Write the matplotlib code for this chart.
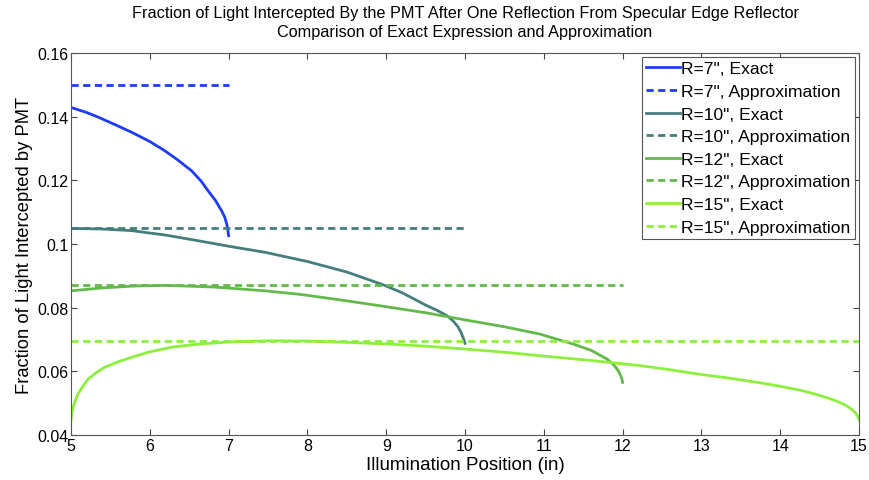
import matplotlib
matplotlib.use('Agg')
import matplotlib.pyplot as plt

plt.rcParams['font.family'] = ['Liberation Sans', 'DejaVu Sans']

# values
x_r7 = [5.0, 5.2, 5.35, 5.55, 5.77, 6.0, 6.19, 6.35, 6.53, 6.65, 6.74, 6.83, 6.91, 6.95,
        6.976, 6.99, 7.0]
y_r7 = [0.1429, 0.1413, 0.1398, 0.1376, 0.1351, 0.1322, 0.1293, 0.1265, 0.1230, 0.1198,
        0.1167, 0.1138, 0.1105, 0.1085, 0.1063, 0.1045, 0.1026]

x_r10 = [5.0, 5.4, 5.77, 6.2, 6.62, 7.0, 7.46, 8.0, 8.5, 8.96, 9.2, 9.34, 9.5, 9.65, 9.77,
         9.85, 9.91, 9.95, 9.98, 10.0]
y_r10 = [0.1049, 0.1047, 0.1042, 0.1028, 0.1010, 0.0993, 0.0974, 0.0945, 0.0912, 0.0872,
         0.0847, 0.0829, 0.0808, 0.0791, 0.0775, 0.0758, 0.0740, 0.0722, 0.0703, 0.0688]

x_r12 = [5.0, 5.4, 5.8, 6.19, 6.8, 7.46, 7.9, 8.4, 8.92, 9.5, 10.06, 10.5, 10.95, 11.37,
         11.6, 11.8, 11.88, 11.93, 11.97, 11.99, 12.0]
y_r12 = [0.0853, 0.0862, 0.0868, 0.0870, 0.0865, 0.0853, 0.0842, 0.0825, 0.0806, 0.0784,
         0.0759, 0.0740, 0.0717, 0.0686, 0.0666, 0.0639, 0.0622, 0.0607, 0.0590, 0.0577,
         0.0565]

x_r15 = [5.0, 5.01, 5.03, 5.06, 5.09, 5.15, 5.22, 5.32, 5.43, 5.6, 5.77, 5.98, 6.28, 6.6,
         7.0, 7.5, 8.0, 8.5, 9.0, 9.5, 10.0, 10.5, 10.95, 11.6, 12.22, 12.6, 13.0, 13.4,
         13.74, 14.0, 14.25, 14.45, 14.62, 14.75, 14.84, 14.9, 14.95, 14.98, 15.0]
y_r15 = [0.0445, 0.0470, 0.0490, 0.0512, 0.0529, 0.0553, 0.0576, 0.0596, 0.0613, 0.0630,
         0.0644, 0.0660, 0.0676, 0.0685, 0.0692, 0.0696, 0.0695, 0.0691, 0.0686, 0.0679,
         0.0670, 0.0660, 0.0649, 0.0634, 0.0618, 0.0605, 0.0590, 0.0577, 0.0564, 0.0553,
         0.0541, 0.0528, 0.0515, 0.0503, 0.0492, 0.0482, 0.0471, 0.0460, 0.0448]

radii = [7, 10, 12, 15]
approx = [0.1500, 0.1049, 0.0872, 0.0696]
exact_x = [x_r7, x_r10, x_r12, x_r15]
exact_y = [y_r7, y_r10, y_r12, y_r15]
colors = ['#1e3cf5', '#467d7d', '#64b94b', '#8cf03c']

fig = plt.figure(figsize=(8.7, 4.81), dpi=100)
ax = fig.add_axes([0.0816, 0.0936, 0.9058, 0.7941])

for r, a, xs, ys, c in zip(radii, approx, exact_x, exact_y, colors):
    ax.plot(xs, ys, color=c, lw=2, label='R=%d", Exact' % r)
    ax.plot([5, r], [a, a], color=c, lw=2, dashes=(2.6, 1.6),
            label='R=%d", Approximation' % r)

ax.set_xlim(5, 15)
ax.set_ylim(0.04, 0.16)
ax.set_xticks(range(5, 16))
ax.set_yticks([0.04, 0.06, 0.08, 0.1, 0.12, 0.14, 0.16])
ax.set_yticklabels(['0.04', '0.06', '0.08', '0.1', '0.12', '0.14', '0.16'])
ax.tick_params(direction='in', top=True, right=True, length=4, width=0.8,
               color='#444444', labelsize=11.5, pad=2)
for s in ax.spines.values():
    s.set_color('#555555')
    s.set_linewidth(0.8)

ax.set_xlabel('Illumination Position (in)', fontsize=13.5, labelpad=2)
ax.set_ylabel('Fraction of Light Intercepted by PMT', fontsize=13.2, labelpad=3)
ax.set_title('Fraction of Light Intercepted By the PMT After One Reflection From Specular Edge Reflector\n'
             'Comparison of Exact Expression and Approximation', fontsize=11.7, pad=12,
             linespacing=1.35)

leg = ax.legend(loc='upper right', bbox_to_anchor=(0.995, 0.99), borderaxespad=0,
                fontsize=12.6, handlelength=1.9, handletextpad=0.1, labelspacing=0.42,
                borderpad=0.25, fancybox=False, framealpha=1)
leg.get_frame().set_edgecolor('#555555')
leg.get_frame().set_linewidth(0.8)

fig.savefig('out.png', dpi=100)
